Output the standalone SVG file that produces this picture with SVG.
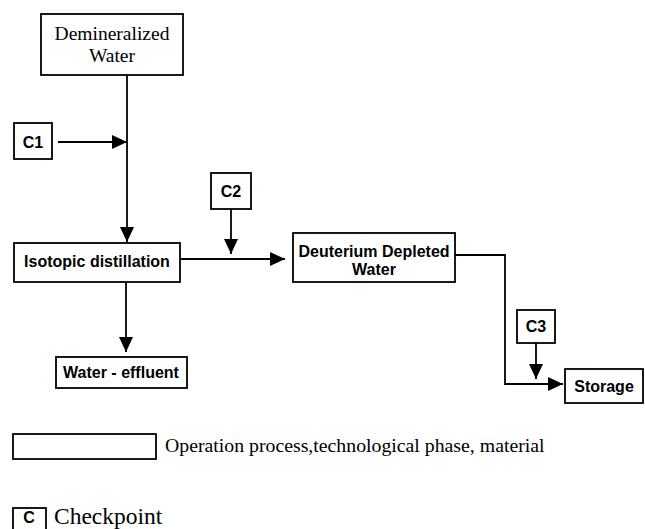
<svg xmlns="http://www.w3.org/2000/svg" width="645" height="529" viewBox="0 0 645 529">
<style>
.box{fill:#fff;stroke:#000;stroke-width:1.8}
.serif{font-family:"Liberation Serif","Times New Roman",serif;fill:#000}
.sans{font-family:"Liberation Sans",Arial,sans-serif;font-weight:bold;fill:#000;font-size:16px}
.ln{fill:none;stroke:#000;stroke-width:1.8}
</style>
<defs>
<marker id="ah" markerWidth="15" markerHeight="14" refX="15" refY="7" orient="auto" markerUnits="userSpaceOnUse">
<path d="M0,0 L15,7 L0,14 Z" fill="#000"/>
</marker>
</defs>
<rect width="645" height="529" fill="#fff"/>
<g id="connectors">
<path class="ln" d="M127,75 V242" marker-end="url(#ah)"/>
<path class="ln" d="M58,142 H127" marker-end="url(#ah)"/>
<path class="ln" d="M180,259 H285" marker-end="url(#ah)"/>
<path class="ln" d="M231,209 V254" marker-end="url(#ah)"/>
<path class="ln" d="M126,282 V352" marker-end="url(#ah)"/>
<path class="ln" d="M455,255 H505 V384 H563" marker-end="url(#ah)"/>
<path class="ln" d="M536,343 V379" marker-end="url(#ah)"/>
</g>
<g id="demin">
<rect class="box" x="41" y="14" width="142" height="61"/>
<text class="serif" x="112" y="40" font-size="19.5" text-anchor="middle">Demineralized</text>
<text class="serif" x="112" y="62" font-size="19.5" text-anchor="middle">Water</text>
</g>
<g id="c1">
<rect class="box" x="14" y="123" width="38" height="36"/>
<text class="sans" x="33" y="148" text-anchor="middle">C1</text>
</g>
<g id="isotopic">
<rect class="box" x="14" y="243" width="166" height="39"/>
<text class="sans" x="97" y="267" text-anchor="middle">Isotopic distillation</text>
</g>
<g id="c2">
<rect class="box" x="211" y="173" width="40" height="36"/>
<text class="sans" x="231" y="197" text-anchor="middle">C2</text>
</g>
<g id="deuterium">
<rect class="box" x="293" y="233" width="162" height="49"/>
<text class="sans" x="374" y="257" text-anchor="middle">Deuterium Depleted</text>
<text class="sans" x="374" y="275" text-anchor="middle">Water</text>
</g>
<g id="effluent">
<rect class="box" x="56" y="357" width="131" height="31"/>
<text class="sans" x="121" y="378" text-anchor="middle">Water - effluent</text>
</g>
<g id="c3">
<rect class="box" x="517" y="310" width="38" height="33"/>
<text class="sans" x="536" y="332" text-anchor="middle">C3</text>
</g>
<g id="storage">
<rect class="box" x="565" y="369" width="78" height="34"/>
<text class="sans" x="604" y="392" text-anchor="middle" font-size="15">Storage</text>
</g>
<g id="legend-process">
<rect class="box" x="13" y="434" width="143" height="25"/>
<text class="serif" x="165" y="452" font-size="19.8">Operation process,technological phase, material</text>
</g>
<g id="legend-checkpoint">
<rect class="box" x="13" y="508" width="33" height="30"/>
<text class="sans" x="29" y="523" font-size="13" text-anchor="middle">C</text>
<text class="serif" x="54" y="524" font-size="23.5">Checkpoint</text>
</g>
</svg>
